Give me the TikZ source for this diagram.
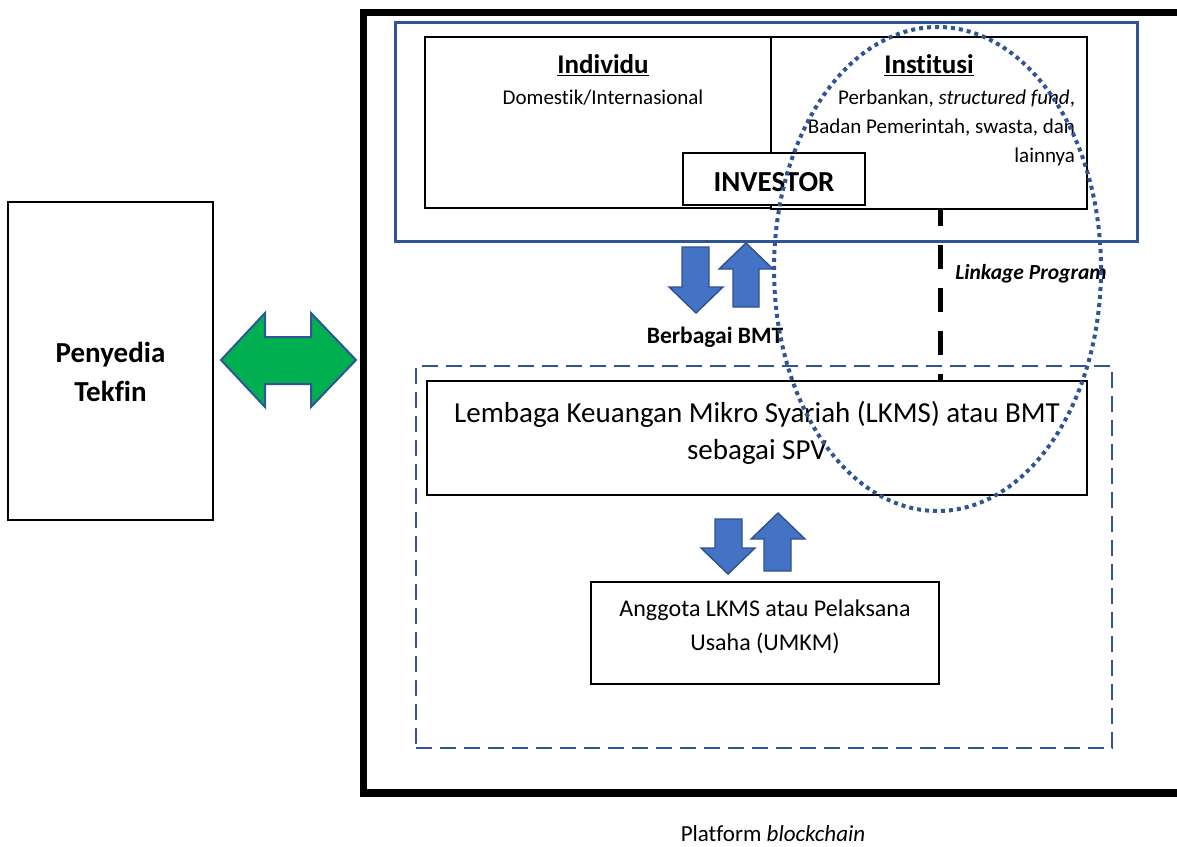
\documentclass[tikz,border=0pt]{standalone}
\usepackage{fontspec}
\setmainfont{Carlito}[Ligatures={NoCommon}]
\usetikzlibrary{shapes.geometric}
\definecolor{frameblue}{RGB}{47,85,151}
\definecolor{arrowfill}{RGB}{68,114,196}
\definecolor{arrowline}{RGB}{47,82,143}
\definecolor{arrowgreen}{RGB}{0,176,80}
\begin{document}
\begin{tikzpicture}[x=1pt,y=-1pt,
  boxnode/.style={draw=black, line width=1.6pt, inner sep=0pt, outer sep=0pt, anchor=north west, fill=white},
  bluearrow/.style={fill=arrowfill, draw=arrowline, line width=1.4pt, line join=miter},
  txt/.style={inner sep=0pt, outer sep=0pt, align=center},
]
\useasboundingbox (0,0) rectangle (1177,846);
\clip (0,0) rectangle (1177,846);

% outer blockchain platform frame
\draw[line width=7.5pt, line join=miter] (1200,12.5) -- (363.5,12.5) -- (363.5,793) -- (1200,793);

% Penyedia Tekfin
\node[boxnode, minimum width=205pt, minimum height=318pt] (tekfin) at (8,202) {};
\node[txt, font=\fontsize{29}{39}\selectfont\bfseries] (tekfintext) at (110.5,372) {Penyedia\\Tekfin};

% green double arrow
\draw[fill=arrowgreen, draw=frameblue, line width=2pt, line join=miter]
  (221,360) -- (265,313) -- (265,337) -- (311,337) -- (311,313) -- (356,360)
  -- (311,407) -- (311,384) -- (265,384) -- (265,407) -- cycle;

% investor frame
\node[draw=frameblue, line width=3pt, inner sep=0pt, outer sep=0pt, anchor=north west,
      minimum width=742pt, minimum height=219pt] (investorframe) at (395,22) {};
\node[boxnode, minimum width=346pt, minimum height=171pt] (individubox) at (425,37) {};
\node[boxnode, minimum width=316pt, minimum height=172pt] (institusibox) at (771,37) {};
\node[txt, font=\fontsize{27}{32}\selectfont\bfseries] (individu) at (603,65) {\underline{Individu}};
\node[txt, font=\fontsize{21}{26}\selectfont] (domestik) at (603,98) {Domestik/Internasional};
\node[txt, font=\fontsize{27}{32}\selectfont\bfseries] (institusi) at (929,65) {\underline{Institusi}};
\node[txt, align=right, anchor=north east, font=\fontsize{21}{29}\selectfont] (institusitext) at (1075,90)
  {Perbankan, \textit{structured fund},\\Badan Pemerintah, swasta, dan\\lainnya};
\node[boxnode, minimum width=182pt, minimum height=52pt] (investor) at (683,153) {};
\node[txt, font=\fontsize{29}{34}\selectfont\bfseries] (investortext) at (774,182) {INVESTOR};

% arrows between investor and LKMS
\draw[bluearrow] (682,247) -- (709,247) -- (709,287) -- (723,287) -- (696,313) -- (669,287) -- (682,287) -- cycle;
\draw[bluearrow] (746,243) -- (773,269) -- (759,269) -- (759,307) -- (733,307) -- (733,269) -- (719,269) -- cycle;
\node[txt, font=\fontsize{23.5}{28}\selectfont\bfseries] (berbagai) at (715,337) {Berbagai BMT};

% linkage program
\node[txt, font=\fontsize{21.5}{26}\selectfont\bfseries\itshape] (linkage) at (1031,274) {Linkage Program};

% dashed LKMS frame
\node[draw=frameblue, line width=2.5pt, dash pattern=on 16pt off 8pt, inner sep=0pt, outer sep=0pt,
      anchor=north west, minimum width=696pt, minimum height=382pt] (lkmsframe) at (416,366) {};
\node[boxnode, minimum width=660pt, minimum height=114pt] (lkms) at (427,381) {};
\node[txt, font=\fontsize{29}{37}\selectfont] (lkmstext) at (757,433)
  {Lembaga Keuangan Mikro Syariah (LKMS) atau BMT\\sebagai SPV};

\draw[line width=5pt, dash pattern=on 24pt off 19pt, dash phase=7pt]
  (institusibox.south -| 940,0) -- (lkms.north -| 940,0);

% arrows between LKMS and members
\draw[bluearrow] (715,519) -- (742,519) -- (742,548) -- (755,548) -- (728,574) -- (701,548) -- (715,548) -- cycle;
\draw[bluearrow] (778,513) -- (805,539) -- (791,539) -- (791,571) -- (764,571) -- (764,539) -- (751,539) -- cycle;

\node[boxnode, minimum width=348pt, minimum height=102pt] (anggota) at (591,582) {};
\node[txt, font=\fontsize{24}{34}\selectfont] (anggotatext) at (765,627)
  {Anggota LKMS atau Pelaksana\\Usaha (UMKM)};

% dotted ellipse
\node[ellipse, draw=frameblue, line width=4pt, dash pattern=on 4pt off 4pt, inner sep=0pt,
      minimum width=327pt, minimum height=484pt] (focus) at (937.5,269) {};

\node[txt, font=\fontsize{23}{28}\selectfont] (platform) at (773,834) {Platform \textit{blockchain}};
\end{tikzpicture}
\end{document}
